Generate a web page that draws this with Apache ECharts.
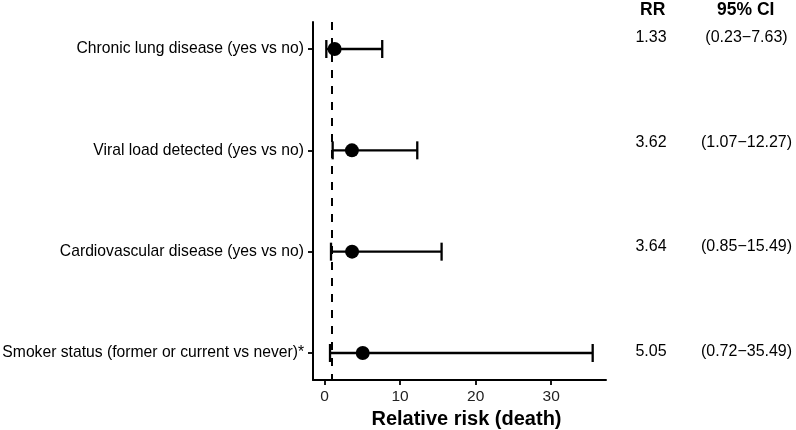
<!DOCTYPE html>
<html>
<head>
<meta charset="utf-8">
<script src="https://cdn.jsdelivr.net/npm/echarts@6/dist/echarts.min.js"></script>
<style>
html,body{margin:0;padding:0;background:#fff;}
#chart{width:796px;height:430px;}
</style>
</head>
<body>
<div id="chart"></div>
<script>
const categories = [
  "Chronic lung disease (yes vs no)",
  "Viral load detected (yes vs no)",
  "Cardiovascular disease (yes vs no)",
  "Smoker status (former or current vs never)*"
];
const rr = [1.33, 3.62, 3.64, 5.05];
const ciLow = [0.23, 1.07, 0.85, 0.72];
const ciHigh = [7.63, 12.27, 15.49, 35.49];
const xTicks = [0, 10, 20, 30];
const refLine = 1;

const FONT = '"Liberation Sans", Arial, Helvetica, sans-serif';
const rowIdx = categories.map((c, i) => i + 1);

const lo = Math.min(...ciLow, refLine), hi = Math.max(...ciHigh, refLine);
const pad = (hi - lo) * 0.05;

const chart = echarts.init(document.getElementById('chart'), null, {renderer: 'canvas'});

const errData = categories.map((c, i) => [rowIdx[i], ciLow[i], ciHigh[i]]);
const ptData = categories.map((c, i) => [rr[i], rowIdx[i]]);
const rrText = categories.map((c, i) => [0.2368, rowIdx[i], rr[i].toFixed(2)]);
const ciText = categories.map((c, i) => [0.7395, rowIdx[i], '(' + ciLow[i].toFixed(2) + '\u2212' + ciHigh[i].toFixed(2) + ')']);

const textLabel = {show: true, position: 'inside', formatter: p => p.value[2],
  color: '#000', opacity: 1, fontSize: 16, fontFamily: FONT};

chart.setOption({
  animation: false,
  backgroundColor: '#fff',
  textStyle: {fontFamily: FONT},
  grid: [
    {left: 313, right: 190, top: 22, bottom: 50, containLabel: false, outerBoundsMode: 'none'},
    {left: 606, right: 0, top: 0, bottom: 50, containLabel: false, outerBoundsMode: 'none'}
  ],
  xAxis: [
    {
      type: 'value', gridIndex: 0, min: lo - pad, max: hi + pad,
      splitLine: {show: false},
      axisLine: {show: true, onZero: false, lineStyle: {color: '#000', width: 2}},
      axisTick: {show: true, length: 5, customValues: xTicks, lineStyle: {color: '#000', width: 1.8}},
      axisLabel: {customValues: xTicks, color: '#222', fontSize: 15.5, margin: 9, fontFamily: FONT},
      name: 'Relative risk (death)', nameLocation: 'middle', nameGap: 27,
      nameTextStyle: {fontSize: 20, fontWeight: 'bold', color: '#000', fontFamily: FONT, padding: [0, 0, 0, 14]}
    },
    {type: 'value', gridIndex: 1, min: 0, max: 1, show: false}
  ],
  yAxis: [
    {
      type: 'value', gridIndex: 0, inverse: true, min: 0.7335, max: 4.2665,
      splitLine: {show: false},
      axisLine: {show: true, onZero: false, lineStyle: {color: '#000', width: 2}},
      axisTick: {show: true, length: 5, customValues: rowIdx, lineStyle: {color: '#000', width: 1.8}},
      axisLabel: {customValues: rowIdx, color: '#000', fontSize: 15.7, margin: 9, fontFamily: FONT,
        formatter: v => categories[Math.round(v) - 1]}
    },
    {type: 'value', gridIndex: 1, inverse: true, min: 0.6417, max: 4.2722, show: false}
  ],
  graphic: [
    {type: 'text', left: 640, top: 1, style: {text: 'RR', font: 'bold 17.5px ' + FONT, fill: '#000'}},
    {type: 'text', left: 717, top: 1, style: {text: '95% CI', font: 'bold 17.5px ' + FONT, fill: '#000'}}
  ],
  series: [
    {
      type: 'custom', xAxisIndex: 0, yAxisIndex: 0, silent: true,
      data: errData,
      encode: {x: [1, 2], y: 0},
      renderItem: function (params, api) {
        const y = api.value(0);
        const p1 = api.coord([api.value(1), y]);
        const p2 = api.coord([api.value(2), y]);
        const h = 9;
        const st = {stroke: '#000', lineWidth: 2.3};
        return {
          type: 'group',
          children: [
            {type: 'line', shape: {x1: p1[0], y1: p1[1], x2: p2[0], y2: p2[1]}, style: st},
            {type: 'line', shape: {x1: p1[0], y1: p1[1] - h, x2: p1[0], y2: p1[1] + h}, style: st},
            {type: 'line', shape: {x1: p2[0], y1: p2[1] - h, x2: p2[0], y2: p2[1] + h}, style: st}
          ]
        };
      }
    },
    {
      type: 'scatter', xAxisIndex: 0, yAxisIndex: 0, silent: true,
      data: ptData, symbol: 'circle', symbolSize: 14,
      itemStyle: {color: '#000', opacity: 1},
      markLine: {
        silent: true, symbol: ['none', 'none'],
        label: {show: false},
        lineStyle: {color: '#000', type: [8, 8], width: 2, opacity: 1},
        data: [{xAxis: refLine}]
      }
    },
    {
      type: 'scatter', xAxisIndex: 1, yAxisIndex: 1, silent: true, clip: false,
      data: rrText, symbolSize: 0, itemStyle: {opacity: 1},
      label: textLabel
    },
    {
      type: 'scatter', xAxisIndex: 1, yAxisIndex: 1, silent: true, clip: false,
      data: ciText, symbolSize: 0, itemStyle: {opacity: 1},
      label: textLabel
    }
  ]
});
</script>
</body>
</html>
